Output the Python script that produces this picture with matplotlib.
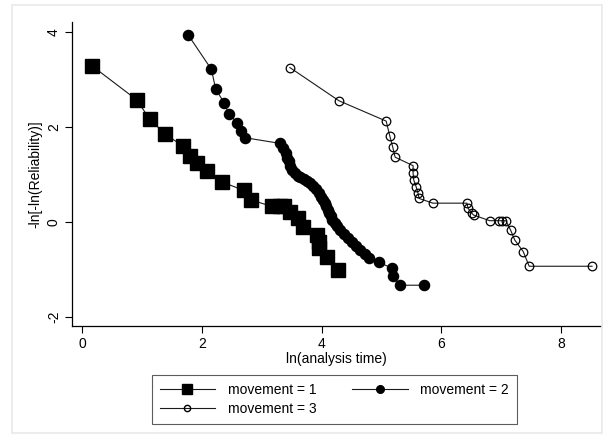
import matplotlib.pyplot as plt
from matplotlib.lines import Line2D
from matplotlib.patches import Rectangle

plt.rcParams['font.family'] = ['Liberation Sans', 'DejaVu Sans']

# movement = 1 (filled squares)
x1 = [0.16, 0.91, 1.13, 1.39, 1.68, 1.80, 1.92, 2.08, 2.33, 2.70, 2.82,
      3.17, 3.30, 3.37, 3.47, 3.60, 3.69, 3.92, 3.95, 3.95, 4.09, 4.28]
y1 = [3.29, 2.57, 2.16, 1.84, 1.60, 1.39, 1.23, 1.07, 0.84, 0.66, 0.46,
      0.32, 0.32, 0.32, 0.21, 0.07, -0.12, -0.28, -0.42, -0.56, -0.74, -1.02]

# movement = 2 (filled circles)
x2 = [1.77, 2.16, 2.23, 2.37, 2.45, 2.59, 2.65, 2.72,
      3.31, 3.36, 3.40, 3.43, 3.45, 3.48, 3.50, 3.55, 3.60, 3.64, 3.70,
      3.76, 3.81, 3.86, 3.90, 3.95, 3.99, 4.03, 4.06, 4.08, 4.10, 4.12,
      4.15, 4.18, 4.22, 4.26, 4.31, 4.37, 4.44, 4.51, 4.58, 4.65, 4.72,
      4.79, 4.96, 5.18, 5.19, 5.31, 5.71]
y2 = [3.94, 3.21, 2.80, 2.51, 2.28, 2.08, 1.92, 1.77,
      1.65, 1.55, 1.44, 1.35, 1.27, 1.18, 1.09, 1.02, 0.97, 0.95, 0.90,
      0.85, 0.81, 0.75, 0.68, 0.60, 0.53, 0.46, 0.40, 0.32, 0.25, 0.18,
      0.11, 0.04, -0.03, -0.10, -0.18, -0.26, -0.34, -0.42, -0.51, -0.60, -0.68,
      -0.77, -0.86, -0.98, -1.15, -1.34, -1.34]

# movement = 3 (hollow circles)
x3 = [3.47, 4.29, 5.08, 5.14, 5.19, 5.23, 5.53, 5.53, 5.54, 5.58, 5.61,
      5.63, 5.86, 6.43, 6.45, 6.51, 6.54, 6.81, 6.96, 7.02, 7.08, 7.16,
      7.23, 7.37, 7.47, 8.52]
y3 = [3.25, 2.55, 2.12, 1.81, 1.57, 1.36, 1.18, 1.02, 0.88, 0.74, 0.61,
      0.49, 0.39, 0.39, 0.28, 0.18, 0.14, 0.02, 0.02, 0.02, 0.02, -0.18,
      -0.39, -0.63, -0.94, -0.94]

xticks = [0, 2, 4, 6, 8]
yticks = [-2, 0, 2, 4]

fig = plt.figure(figsize=(6.03, 4.38), dpi=100)
fig.patches.append(Rectangle((12 / 603, 1 - 433 / 438), 590 / 603, 428 / 438,
                             transform=fig.transFigure, fill=False,
                             edgecolor='#e6eaec', linewidth=1.2))
ax = fig.add_axes([72 / 603, 1 - 326 / 438, 529 / 603, 304 / 438])

lc = '#1a1a1a'
ax.plot(x1, y1, color=lc, lw=0.8, marker='s', ms=9.5, mfc='black', mec='black')
ax.plot(x2, y2, color=lc, lw=0.8, marker='o', ms=7.3, mfc='black', mec='black')
ax.plot(x3, y3, color=lc, lw=0.8, marker='o', ms=6.2, mfc='none', mec='black', mew=0.9)

ax.set_xlim(-0.17, 8.67)
ax.set_ylim(-2.2, 4.21)
ax.set_xticks(xticks)
ax.set_yticks(yticks)
ax.set_yticklabels([str(v) for v in yticks], rotation=90, va='center')
for s in ['top', 'right']:
    ax.spines[s].set_visible(False)
for s in ['left', 'bottom']:
    ax.spines[s].set_linewidth(0.9)
ax.tick_params(direction='out', length=5, width=0.8, labelsize=10, pad=3)
ax.set_xlabel('ln(analysis time)', fontsize=10, labelpad=1)
ax.set_ylabel('-ln[-ln(Reliability)]', fontsize=10, labelpad=3)

h1 = Line2D([], [], color=lc, lw=0.8, marker='s', ms=7, mfc='black', mec='black')
h2 = Line2D([], [], color=lc, lw=0.8, marker='o', ms=5.5, mfc='black', mec='black')
h3 = Line2D([], [], color=lc, lw=0.8, marker='o', ms=4.5, mfc='none', mec='black')
# column-major fill: col 1 = movement 1, 3 ; col 2 = movement 2
leg = fig.legend([h1, h3, h2], ['movement = 1', 'movement = 3', 'movement = 2'],
                 ncol=2, loc='upper left',
                 bbox_to_anchor=(152 / 603, 1 - 375 / 438), fontsize=10,
                 frameon=True, fancybox=False, edgecolor='#333333',
                 handlelength=4, columnspacing=2.6, labelspacing=0.4,
                 borderpad=0.55, handletextpad=0.9, borderaxespad=0)
leg.get_frame().set_linewidth(0.8)

fig.savefig('out.png', dpi=100)
